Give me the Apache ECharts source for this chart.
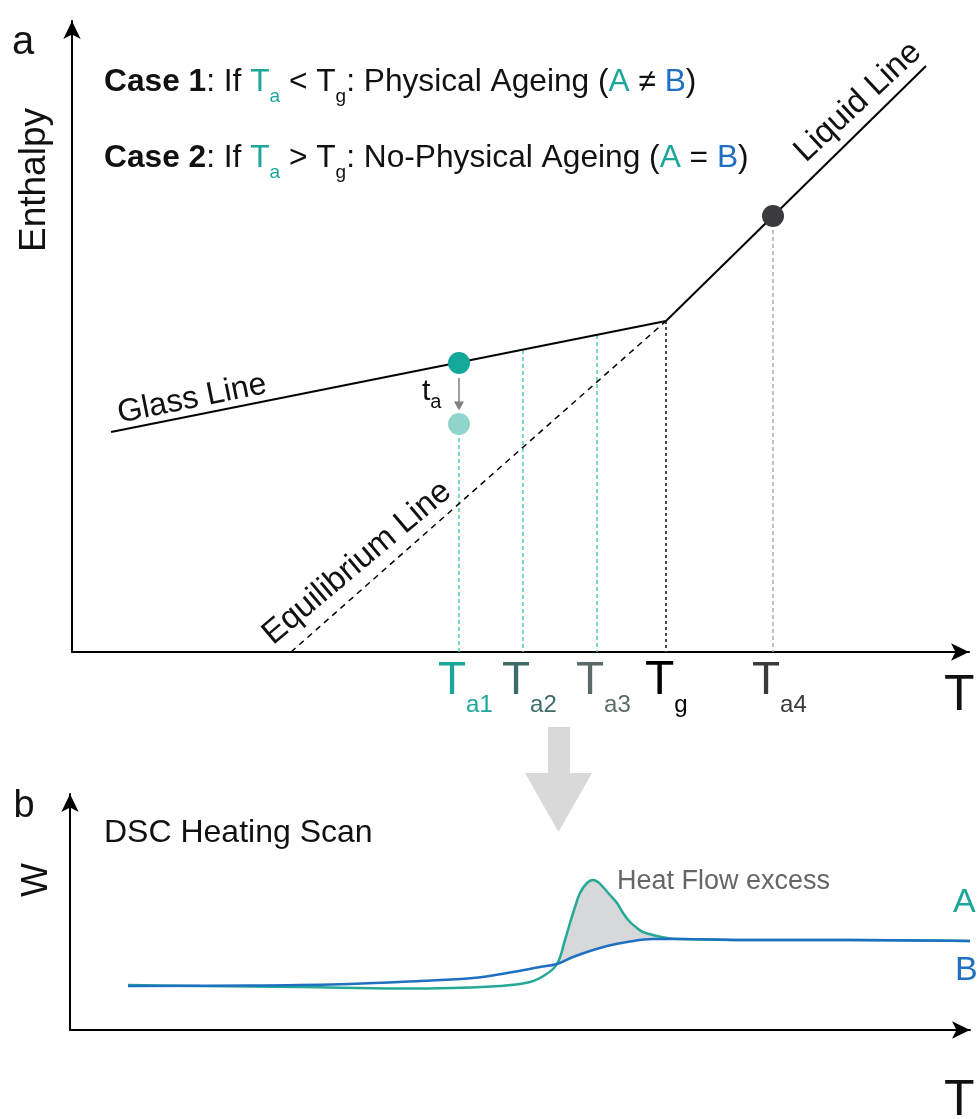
<!DOCTYPE html>
<html>
<head>
<meta charset="utf-8">
<script src="https://cdn.jsdelivr.net/npm/echarts@6/dist/echarts.min.js"></script>
<style>
  html, body { margin: 0; padding: 0; background: #ffffff; }
  #chart { width: 980px; height: 1119px; }
</style>
</head>
<body>
<div id="chart"></div>
<script>
const FONT = "'Liberation Sans', Arial, Helvetica, sans-serif";
const TEAL = '#1aa79a';
const BLUE = '#1f70c0';

// ---- Panel a: enthalpy against temperature (schematic units) ----
const glassLine = [[39, 220], [594, 331]];
const liquidLine = [[594, 331], [854, 586]];
const equilibriumLine = [[219, 0], [594, 331]];
const tickTemps = [387, 451, 525, 594, 701];          // Ta1, Ta2, Ta3, Tg, Ta4
const tickSubs = ['a1', 'a2', 'a3', 'g', 'a4'];
const tickColors = ['#1aa79a', '#3e6d69', '#5a6969', '#000000', '#3a3a3a'];
const dropTops = [228, 302, 317, 331, 436];           // enthalpy where each drop line starts
const dropColors = ['#45c3bd', '#45c3bd', '#45c3bd', '#4a4a4a', '#a6a6a6'];
const glassPoint = [387, 289];
const agedPoint = [387, 228];
const liquidPoint = [701, 436];
const ageingArrow = [[387, 274], [387, 246]];

// ---- Panel b: DSC heating scan, heat flow W against T ----
const curveA = [
  [58, 45], [130, 44], [230, 43], [330, 41.5], [380, 42], [430, 44], [460, 48], [475, 55],
  [487, 66], [495, 90], [500, 107], [505, 123], [510, 137], [517, 147], [523, 150], [528, 148],
  [533, 143], [540, 135], [547, 127], [553, 117], [560, 108], [567, 102], [573, 98], [583, 95],
  [597, 92], [610, 91], [680, 90], [780, 90], [900, 89]
];
const curveB = [
  [58, 44], [180, 44.5], [280, 46], [350, 49], [403, 52], [437, 57], [470, 63], [487, 66],
  [503, 73], [520, 79], [537, 84], [557, 88], [583, 91], [610, 91], [680, 90], [780, 90], [900, 89]
];
const excessRange = [487, 610];

const chart = echarts.init(document.getElementById('chart'), null, { renderer: 'canvas' });

function arrowAxis(gridIndex, max) {
  return {
    type: 'value', gridIndex: gridIndex, min: 0, max: max,
    axisLine: {
      show: true, onZero: false,
      symbol: ['none', 'arrow'], symbolSize: [13, 18],
      lineStyle: { color: '#000', width: 2 }
    },
    axisTick: { show: false },
    axisLabel: { show: false },
    splitLine: { show: false }
  };
}

function plainLine(data, color, width, type, z) {
  return {
    type: 'line', xAxisIndex: 0, yAxisIndex: 0, data: data,
    symbol: 'none', silent: true, z: z || 2,
    lineStyle: { color: color, width: width, type: type || 'solid' }
  };
}

const series = [
  plainLine(glassLine, '#000', 2),
  plainLine(liquidLine, '#000', 2),
  plainLine(equilibriumLine, '#000', 1.5, [6, 5])
];

tickTemps.forEach(function (t, i) {
  series.push(plainLine([[t, dropTops[i]], [t, 0]], dropColors[i],
    i === 3 ? 2 : 1.4, i === 3 ? [3, 3] : [4, 3], 1));
});

// ageing step at Ta1: arrow from the glass line down to the aged state
series.push({
  type: 'line', xAxisIndex: 0, yAxisIndex: 0, silent: true, z: 3,
  showSymbol: true, symbol: 'none',
  lineStyle: { color: '#808080', width: 1.5 },
  itemStyle: { color: '#808080' },
  data: [
    { value: ageingArrow[0], symbol: 'none' },
    { value: ageingArrow[1], symbol: 'triangle', symbolRotate: 180, symbolSize: [10, 9] }
  ]
});

series.push({
  type: 'scatter', xAxisIndex: 0, yAxisIndex: 0, silent: true, z: 5,
  symbolSize: 22,
  itemStyle: { opacity: 1 },
  data: [
    { value: glassPoint, itemStyle: { color: '#14a89a', opacity: 1 } },
    { value: agedPoint, itemStyle: { color: '#90d5cc', opacity: 1 } },
    { value: liquidPoint, itemStyle: { color: '#3b3b3d', opacity: 1 } }
  ]
});

// heat-flow excess: region between curve A and curve B
series.push({
  type: 'custom', xAxisIndex: 1, yAxisIndex: 1, silent: true, z: 1, clip: false,
  data: [[0, 0]],
  renderItem: function (params, api) {
    const inRange = function (p) { return p[0] >= excessRange[0] && p[0] <= excessRange[1]; };
    const upper = curveA.filter(inRange);
    const lower = curveB.filter(inRange).reverse();
    const pts = upper.concat(lower).map(function (p) { return api.coord(p); });
    return { type: 'polygon', shape: { points: pts, smooth: 0.3 }, style: { fill: '#d6d8d9', stroke: null } };
  }
});

series.push({
  type: 'line', xAxisIndex: 1, yAxisIndex: 1, data: curveA, symbol: 'none', smooth: 0.4,
  silent: true, z: 3, lineStyle: { color: '#26a897', width: 2.5 }
});
series.push({
  type: 'line', xAxisIndex: 1, yAxisIndex: 1, data: curveB, symbol: 'none', smooth: 0.4,
  silent: true, z: 4, lineStyle: { color: BLUE, width: 2.5 }
});

function tok(size, color, extra) {
  return Object.assign({ fontSize: size, fontFamily: FONT, fill: color }, extra || {});
}

function caseRich() {
  return {
    b: tok(31.7, '#111', { fontWeight: 'bold', lineHeight: 48 }),
    n: tok(31.7, '#111', { lineHeight: 48 }),
    t: tok(31.7, TEAL, { lineHeight: 48 }),
    bl: tok(31.7, BLUE, { lineHeight: 48 }),
    st: tok(19, TEAL, { lineHeight: 20, verticalAlign: 'bottom' }),
    sk: tok(19, '#111', { lineHeight: 20, verticalAlign: 'bottom' })
  };
}

function txt(x, y, text, size, color, opts) {
  opts = opts || {};
  return {
    type: 'text', x: x, y: y, rotation: opts.rotation || 0, z: 10, silent: true,
    style: {
      text: text, fontSize: size, fontFamily: FONT, fill: color,
      fontWeight: opts.weight || 'normal',
      align: opts.align || 'left', verticalAlign: 'middle'
    }
  };
}

const deg = Math.PI / 180;
const graphics = [
  // transition arrow between panels
  {
    type: 'polygon', silent: true, z: 0,
    shape: { points: [[548, 727], [570, 727], [570, 773], [592, 773], [558.5, 832], [525, 773], [548, 773]] },
    style: { fill: '#d9d9d9' }
  },
  txt(23, 43, 'a', 40, '#111', { align: 'center' }),
  txt(24, 807, 'b', 38, '#111', { align: 'center' }),
  txt(35, 180, 'Enthalpy', 37, '#111', { align: 'center', rotation: 90 * deg }),
  txt(37, 880, 'W', 36, '#111', { align: 'center', rotation: 90 * deg }),
  {
    type: 'text', x: 104, y: 82, z: 10, silent: true,
    style: {
      text: '{b|Case 1}{n|: If }{t|T}{st|a}{n| < T}{sk|g}{n|: Physical Ageing (}{t|A}{n| ≠ }{bl|B}{n|)}',
      rich: caseRich(), align: 'left', verticalAlign: 'middle'
    }
  },
  {
    type: 'text', x: 104, y: 158, z: 10, silent: true,
    style: {
      text: '{b|Case 2}{n|: If }{t|T}{st|a}{n| > T}{sk|g}{n|: No-Physical Ageing (}{t|A}{n| = }{bl|B}{n|)}',
      rich: caseRich(), align: 'left', verticalAlign: 'middle'
    }
  },
  txt(192, 399, 'Glass Line', 32, '#111', { align: 'center', rotation: 11.5 * deg }),
  txt(858, 102, 'Liquid Line', 33, '#111', { align: 'center', rotation: 43 * deg }),
  txt(357, 563, 'Equilibrium Line', 33, '#111', { align: 'center', rotation: 40 * deg }),
  {
    type: 'text', x: 422, y: 392, z: 10, silent: true,
    style: {
      text: '{t|t}{s|a}',
      rich: { t: tok(30, '#111', { lineHeight: 40 }), s: tok(20, '#111', { lineHeight: 20, verticalAlign: 'bottom' }) },
      align: 'left', verticalAlign: 'middle'
    }
  },
  txt(944, 696, 'T', 50, '#111'),
  txt(944, 1101, 'T', 50, '#111'),
  txt(104, 833, 'DSC Heating Scan', 32, '#111'),
  txt(617, 882, 'Heat Flow excess', 27, '#666'),
  txt(953, 903, 'A', 34, TEAL),
  txt(955, 971, 'B', 34, BLUE)
];

chart.setOption({
  animation: false,
  backgroundColor: '#ffffff',
  grid: [
    { left: 72, top: 21, width: 897, height: 631, containLabel: false },
    { left: 70, top: 794, width: 900, height: 236, containLabel: false }
  ],
  xAxis: [arrowAxis(0, 897), arrowAxis(1, 900)],
  yAxis: [arrowAxis(0, 631), arrowAxis(1, 236)],
  series: series,
  graphic: graphics
});

// temperature tick labels placed at their axis positions
const axisY = chart.convertToPixel({ yAxisIndex: 0 }, 0);
tickTemps.forEach(function (t, i) {
  const px = chart.convertToPixel({ xAxisIndex: 0 }, t);
  graphics.push({
    type: 'text', x: px - 21, y: axisY + 29, z: 10, silent: true,
    style: {
      text: '{T|T}{s|' + tickSubs[i] + '}',
      rich: {
        T: tok(i === 3 ? 48 : 46, tickColors[i], { lineHeight: 72 }),
        s: tok(24, tickColors[i], { lineHeight: 24, verticalAlign: 'bottom' })
      },
      align: 'left', verticalAlign: 'middle'
    }
  });
});
chart.setOption({ graphic: graphics });
</script>
</body>
</html>
